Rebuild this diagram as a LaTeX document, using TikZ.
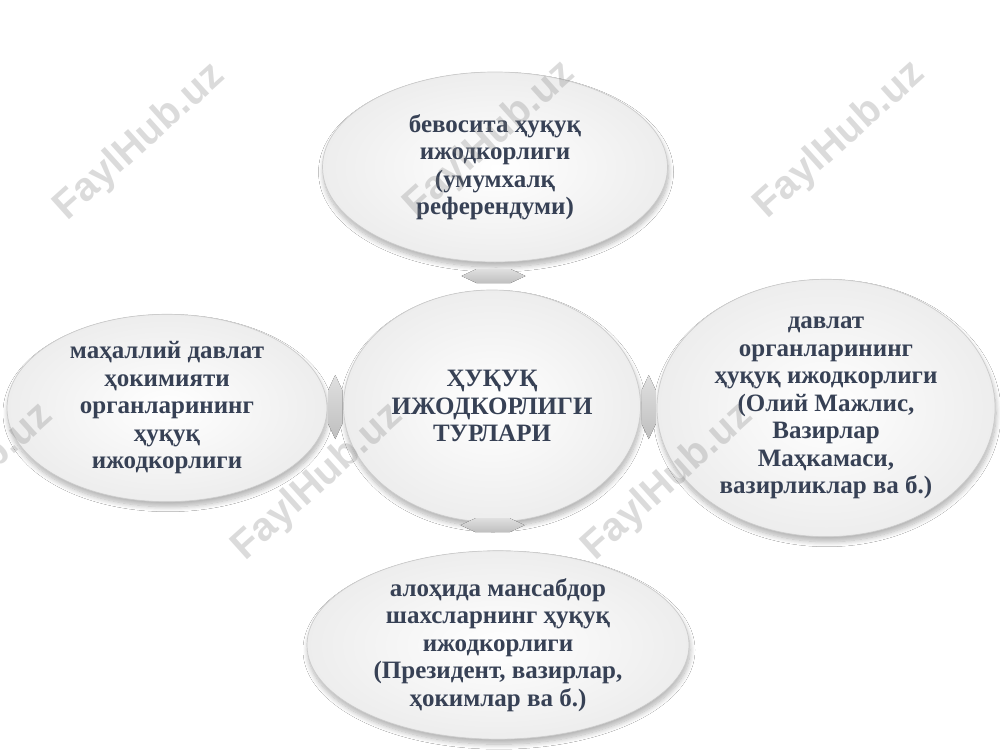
\documentclass[tikz,border=0pt]{standalone}
\usepackage{fontspec}
\setmainfont{Liberation Serif}
\newfontfamily\wmfont{Liberation Sans}
\usetikzlibrary{shapes.geometric,calc,shadows.blur}
\definecolor{txt}{RGB}{55,65,85}
\tikzset{
  bubble/.style={ellipse, inner sep=0pt, align=center, text=txt,
    font=\bfseries\fontsize{25}{27.5}\selectfont,
    draw=gray!40, line width=0.7pt,
    inner color=white, outer color=gray!14,
    blur shadow={shadow xshift=1pt, shadow yshift=-5pt, shadow blur radius=5pt, shadow blur steps=10, shadow opacity=30}},
  connfill/.style={top color=gray!25, bottom color=gray!50, draw=none},
  pics/conn/.style={code={
    \fill[connfill] (-17,-7) -- (17,-7) -- (32,0) -- (17,7) -- (-17,7) -- (-32,0) -- cycle;}},
  wm/.style={font=\wmfont\bfseries\fontsize{40}{40}\selectfont, text=gray, opacity=0.28, rotate=42}
}
\begin{document}
\begin{tikzpicture}[x=1pt,y=-1pt]
\useasboundingbox[fill=white] (0,0) rectangle (1000,750);
\node[bubble, minimum width=345pt, minimum height=190pt] (t) at (495,167)
  {бевосита ҳуқуқ\\ижодкорлиги\\(умумхалқ\\референдуми)};
\node[bubble, minimum width=320pt, minimum height=185pt] (l) at (167,408)
  {маҳаллий давлат\\ҳокимияти\\органларининг\\ҳуқуқ\\ижодкорлиги};
\node[bubble, minimum width=338pt, minimum height=205pt] (r) at (826,408)
  {давлат\\органларининг\\ҳуқуқ ижодкорлиги\\(Олий Мажлис,\\Вазирлар\\Маҳкамаси,\\вазирликлар ва б.)};
\node[bubble, minimum width=382pt, minimum height=185pt] (b) at (498,645)
  {алоҳида мансабдор\\шахсларнинг ҳуқуқ\\ижодкорлиги\\(Президент, вазирлар,\\ҳокимлар ва б.)};
\node[bubble, minimum width=297pt, minimum height=232pt] (c) at (492,406)
  {ҲУҚУҚ\\ИЖОДКОРЛИГИ\\ТУРЛАРИ};
\pic at ($(t.south)!0.5!(c.north)$) {conn};
\pic at ($(c.south)!0.1!(b.north)$) {conn};
\pic[rotate=90] at ($(l.east)!0.5!(c.west)$) {conn};
\pic[rotate=90] at ($(c.east)!0.5!(r.west)$) {conn};
\node[wm] (w1) at (140,142) {FaylHub.uz};
\node[wm] (w2) at (490,140) {FaylHub.uz};
\node[wm] (w3) at (840,140) {FaylHub.uz};
\node[wm] (w4) at (-32,482) {FaylHub.uz};
\node[wm] (w5) at (318,482) {FaylHub.uz};
\node[wm] (w6) at (668,482) {FaylHub.uz};
\end{tikzpicture}
\end{document}
